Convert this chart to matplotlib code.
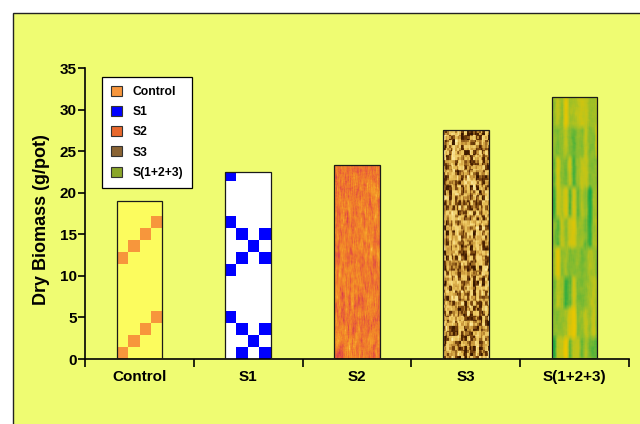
import numpy as np
import matplotlib
matplotlib.use('Agg')
import matplotlib.pyplot as plt
from matplotlib.patches import Rectangle, Patch
from matplotlib.colors import LinearSegmentedColormap, ListedColormap

plt.rcParams['font.family'] = ['Liberation Sans', 'DejaVu Sans']
plt.rcParams['font.weight'] = 'bold'

treatments = ['Control', 'S1', 'S2', 'S3', 'S(1+2+3)']
biomass = [19.0, 22.5, 23.3, 27.5, 31.5]
legend_colors = ['#F7963C', '#0000FF', '#E8682C', '#8A6434', '#8AA62A']

BG = '#EFFC72'
rng = np.random.default_rng(7)


def box_smooth(a, n, axis):
  # simple moving average along one axis
  if n <= 1:
    return a
  k = np.ones(n) / n
  return np.apply_along_axis(lambda v: np.convolve(v, k, mode='same'), axis, a)


def squares_tile(rows, pattern, fg, bg):
  # 4 cells across, repeating block of rows; pattern lists lit columns per row
  img = np.zeros((rows, 4))
  for r in range(rows):
    for c in pattern[r % len(pattern)]:
      img[r, c] = 1
  return img[::-1], ListedColormap([bg, fg])


def norm01(a):
  return (a - a.min()) / (a.max() - a.min())


def streak_noise(h, w, vs, hs):
  a = rng.normal(size=(h, w))
  a = box_smooth(a, vs, 0)
  a = box_smooth(a, hs, 1)
  return norm01(a)


def block_noise(h, w, bh, bw):
  a = rng.random(((h // bh) + 1, (w // bw) + 1))
  a = np.repeat(np.repeat(a, bh, axis=0), bw, axis=1)[:h, :w]
  return a


def band_streaks(h, w):
  cols = rng.normal(size=((h // 30) + 2, w // 4 + 2))
  a = np.repeat(np.repeat(cols, 30, axis=0), 4, axis=1)[:h, :w]
  a = a + 0.5 * rng.normal(size=(h, w))
  a = box_smooth(a, 7, 0)
  a = box_smooth(a, 3, 1)
  return norm01(a)


fig = plt.figure(figsize=(6.4, 4.24), dpi=100)
fig.patch.set_facecolor('white')
fig.patches.append(Rectangle((13 / 640, -0.1), 1.2, 1.1 - 13 / 424,
                             transform=fig.transFigure, facecolor=BG,
                             edgecolor='#222222', linewidth=1.0, zorder=-10))

ax = fig.add_axes([0.1328, 0.1533, 0.850, 0.686])
ax.set_facecolor('none')

x = np.arange(len(treatments))
bars = ax.bar(x, biomass, width=0.42, color='none', edgecolor='#1a1a1a',
              linewidth=0.9, zorder=3)

cell = 1.43
for i, (b, h) in enumerate(zip(bars, biomass)):
  x0, x1 = b.get_x(), b.get_x() + b.get_width()
  if i == 0:
    n = int(np.ceil(h / cell))
    img, cmap = squares_tile(n, [[0], [1], [2], [3], [], [], [], []],
                             '#F7963C', '#FCFC5E')
    ext = [x0, x1, 0, n * cell]
    interp = 'nearest'
  elif i == 1:
    n = int(np.ceil(h / cell))
    img, cmap = squares_tile(n, [[1, 3], [2], [1, 3], [0], [], [], [], [0]],
                             '#0000FF', '#FFFFFF')
    ext = [x0, x1, 0, n * cell]
    interp = 'nearest'
  else:
    hp = int(h * 8.3)
    if i == 2:
      img = 0.6 * streak_noise(hp, 46, 13, 3) + 0.4 * streak_noise(hp, 46, 5, 1)
      img = norm01(img)
      cmap = LinearSegmentedColormap.from_list(
        's2', ['#D63C50', '#E4563E', '#EE742E', '#F28C28', '#F6A42A', '#FCC44C'])
    elif i == 3:
      img = 0.65 * block_noise(hp, 46, 5, 3) + 0.35 * block_noise(hp, 46, 3, 2)
      cmap = LinearSegmentedColormap.from_list(
        's3', ['#2E1200', '#4A2202', '#7A4810', '#C8963A', '#E8C058',
               '#F4D678', '#FCECA8'])
    else:
      img = band_streaks(hp, 46)
      cmap = LinearSegmentedColormap.from_list(
        's123', ['#18A848', '#44B03C', '#86BC30', '#BCC41C', '#DCC408',
                 '#ECC800'])
    ext = [x0, x1, 0, h]
    interp = 'bilinear'
  im = ax.imshow(img, extent=ext, cmap=cmap, aspect='auto',
                 interpolation=interp, zorder=2, origin='upper')
  im.set_clip_path(b)

ax.set_xlim(-0.5, len(treatments) - 0.5)
ax.set_ylim(0, 35)
ax.set_yticks(np.arange(0, 36, 5))
ax.set_xticks(x)
ax.set_xticklabels(treatments)
ax.set_xticks(np.arange(-0.5, len(treatments), 1), minor=True)
ax.tick_params(axis='x', which='major', length=0, pad=8, labelsize=11)
ax.tick_params(axis='x', which='minor', length=6, width=1.2, direction='out')
ax.tick_params(axis='y', length=5, width=1.2, pad=1, labelsize=11)
for lab in ax.get_xticklabels() + ax.get_yticklabels():
  lab.set_fontweight('bold')

for s in ['top', 'right']:
  ax.spines[s].set_visible(False)
for s in ['left', 'bottom']:
  ax.spines[s].set_linewidth(1.2)
  ax.spines[s].set_color('black')

ax.set_ylabel('Dry Biomass (g/pot)', fontsize=13, fontweight='bold')
ax.yaxis.set_label_coords(-0.064, 0.48)

handles = [Patch(facecolor=c, edgecolor='#333333', linewidth=0.8)
           for c in legend_colors]
leg = ax.legend(handles, treatments, loc='upper left',
                bbox_to_anchor=(0.031, 0.97), borderaxespad=0,
                fontsize=8.7, handlelength=0.9, handleheight=0.9,
                handletextpad=0.9, labelspacing=0.66, borderpad=0.75,
                fancybox=False, framealpha=1)
leg.get_frame().set_edgecolor('black')
leg.get_frame().set_linewidth(0.9)
leg.set_zorder(5)
for t in leg.get_texts():
  t.set_fontweight('bold')

fig.savefig('out.png', dpi=100, facecolor='white')
